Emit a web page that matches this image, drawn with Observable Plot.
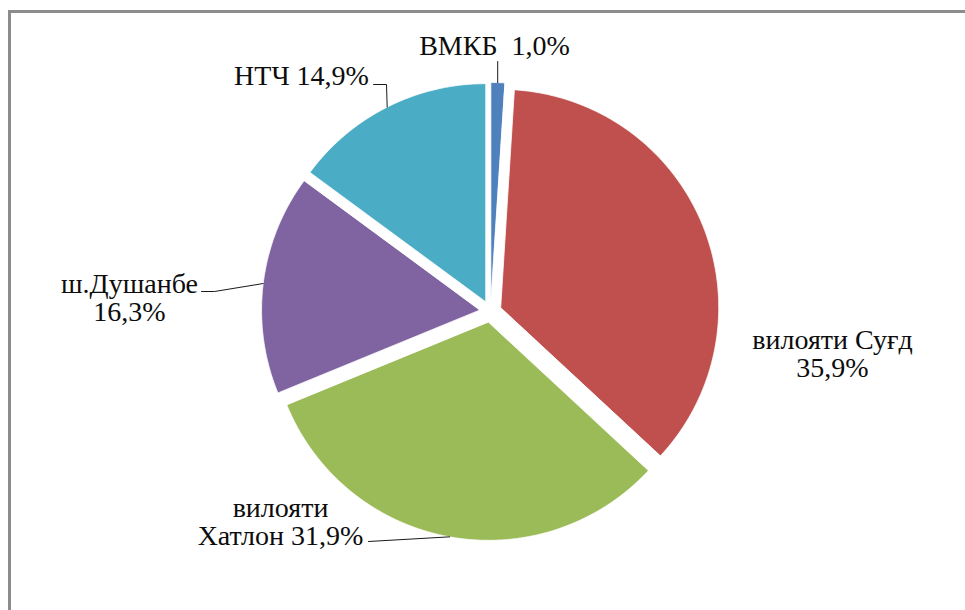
<!DOCTYPE html>
<html><head><meta charset="utf-8">
<script src="https://cdn.jsdelivr.net/npm/d3@7"></script>
<script src="https://cdn.jsdelivr.net/npm/@observablehq/plot@0.6"></script>
<style>
html,body{margin:0;padding:0;background:#fff;}
#chart{position:relative;width:965px;height:610px;overflow:hidden;background:#fff;}
#frame{position:absolute;left:8px;top:10px;width:1000px;height:700px;border:3px solid #8c8c8c;box-sizing:border-box;}
#chart svg{position:absolute;left:0;top:0;}
</style></head><body>
<div id="chart"><div id="frame"></div></div>
<script>
// ---- data ----
const categories = ["ВМКБ", "вилояти Суғд", "вилояти Хатлон", "ш.Душанбе", "НТЧ"];
const shares = [1.0, 35.9, 31.9, 16.3, 14.9];
const labelTexts = ["ВМКБ  1,0%", "вилояти Суғд\n35,9%", "вилояти\nХатлон 31,9%", "ш.Душанбе\n16,3%", "НТЧ 14,9%"];
const colors = ["#4F81BD", "#C0504D", "#9BBB59", "#8064A2", "#4BACC6"];

// ---- layout (styling, not data) ----
const cx = 490, cy = 311, R = 218, explode = 11;
const labelPos = [[494, 46], [832, 354], [280, 522], [129, 298], [301, 76]];
const leaderExtra = [[[null, 61]], null, [[368, 541]], [[214, 291], [201, 291]], [[386, 84], [373, 84]]];
const FONT = "'Liberation Serif', 'Times New Roman', serif";

const arcs = d3.pie().sort(null).value(d => d)(shares);
const slicePts = [];
const leaderPts = [];
arcs.forEach((a, i) => {
  const name = categories[i];
  const mid = (a.startAngle + a.endAngle) / 2;
  const ox = cx + explode * Math.sin(mid), oy = cy - explode * Math.cos(mid);
  slicePts.push({name, x: ox, y: oy});
  const n = Math.max(4, Math.ceil((a.endAngle - a.startAngle) / 0.005));
  for (let k = 0; k <= n; k++) {
    const t = a.startAngle + (a.endAngle - a.startAngle) * k / n;
    slicePts.push({name, x: ox + R * Math.sin(t), y: oy - R * Math.cos(t)});
  }
  if (leaderExtra[i]) {
    const px = ox + R * Math.sin(mid), py = oy - R * Math.cos(mid);
    leaderPts.push({name, x: px, y: py});
    leaderExtra[i].forEach(([x, y]) => leaderPts.push({name, x: x == null ? px : x, y}));
  }
});
const labels = labelTexts.map((t, i) => ({text: t, x: labelPos[i][0], y: labelPos[i][1]}));

const chart = Plot.plot({
  width: 965, height: 610, margin: 0,
  style: {background: "transparent"},
  x: {domain: [0, 965], range: [0, 965], axis: null},
  y: {domain: [0, 610], range: [0, 610], axis: null},
  color: {domain: categories, range: colors},
  marks: [
    Plot.line(slicePts, {x: "x", y: "y", z: "name", fill: "name", stroke: "white", strokeWidth: 0.8, curve: "linear-closed"}),
    Plot.line(leaderPts, {x: "x", y: "y", z: "name", stroke: "#1a1a1a", strokeWidth: 1}),
    Plot.text(labels, {x: "x", y: "y", text: "text", fontFamily: FONT, fontSize: 28, lineHeight: 1.0, fill: "#0d0d0d"})
  ]
});
document.getElementById("chart").appendChild(chart);
</script>
</body></html>
